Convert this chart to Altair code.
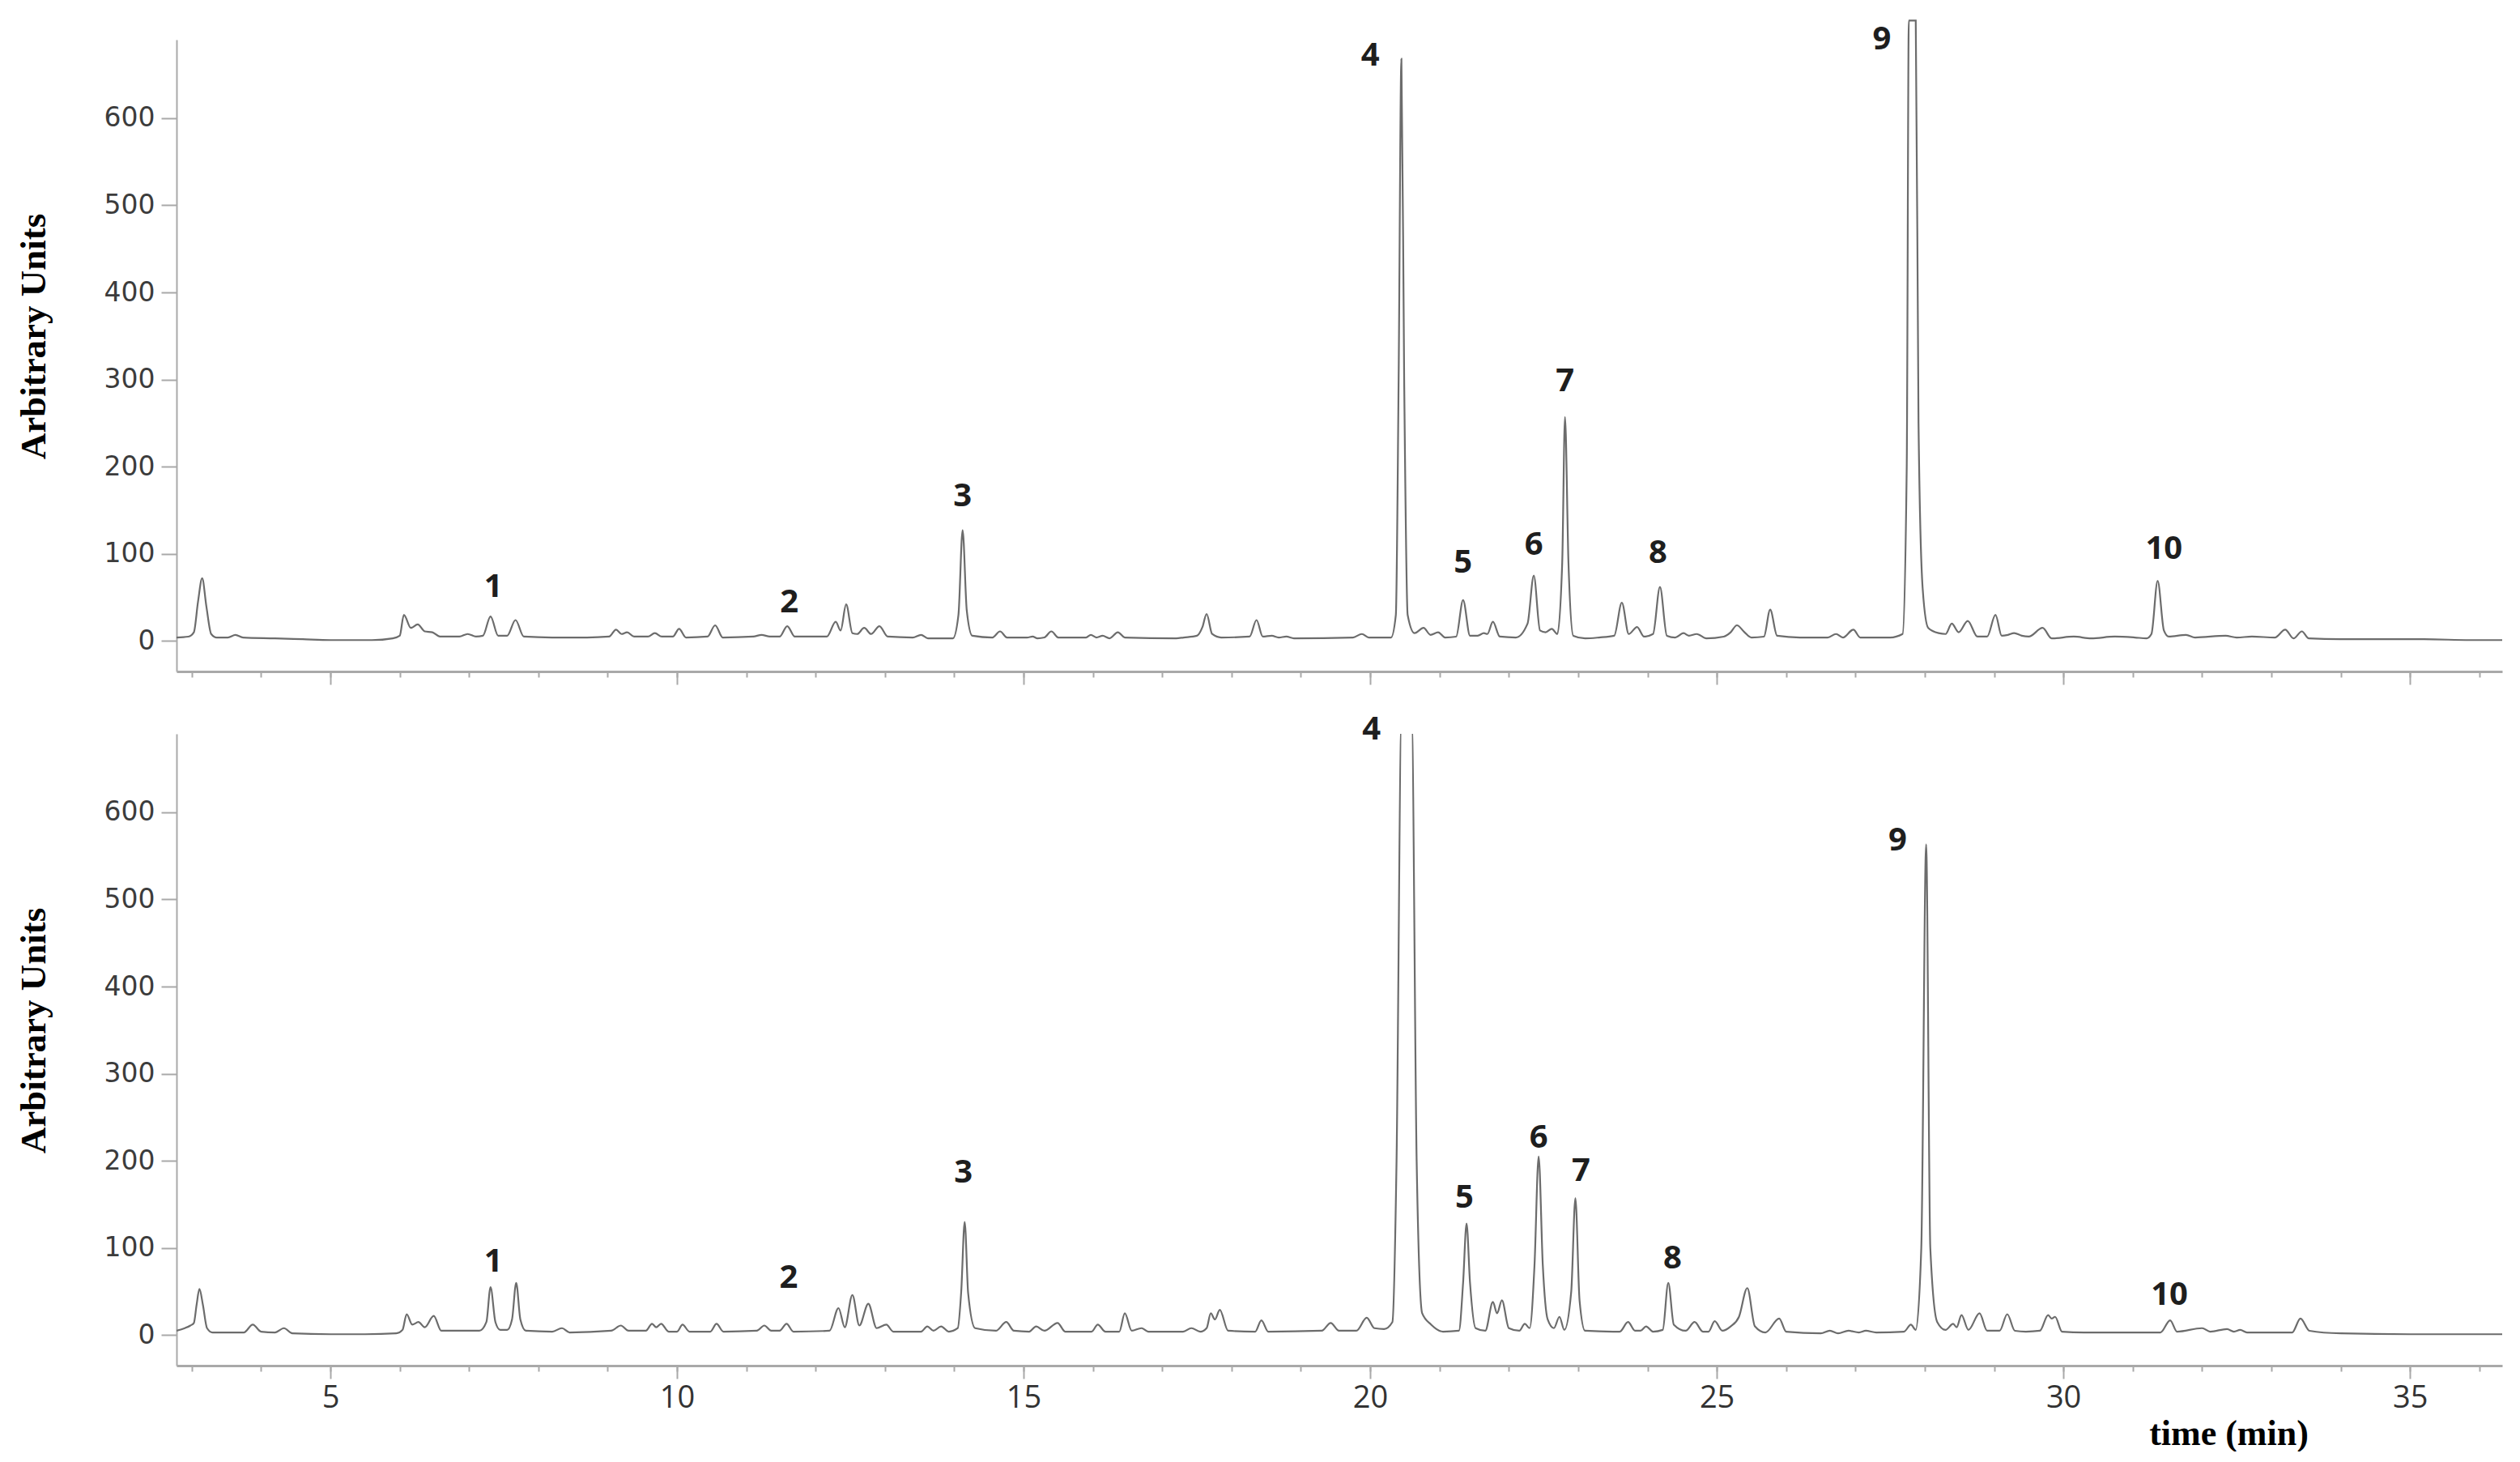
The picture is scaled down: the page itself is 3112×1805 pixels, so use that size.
import altair as alt
import pandas as pd

# ---------------- data ----------------
TOP_T = [2.78, 2.95, 3.03, 3.09, 3.15, 3.21, 3.28, 3.36, 3.52, 3.63, 3.74, 4.2, 4.6, 5.0, 5.6, 5.9,
         6.0, 6.06, 6.16, 6.26, 6.36, 6.47, 6.58, 6.86, 6.98, 7.1, 7.2, 7.31, 7.42, 7.55, 7.67, 7.79,
         8.2, 8.7, 9.02, 9.12, 9.2, 9.28, 9.38, 9.58, 9.68, 9.78, 9.94, 10.03, 10.13, 10.44, 10.55,
         10.66, 11.1, 11.22, 11.34, 11.48, 11.59, 11.7, 12.16, 12.29, 12.36, 12.44, 12.53, 12.6, 12.7,
         12.8, 12.92, 13.04, 13.4, 13.52, 13.62, 13.98, 14.06, 14.12, 14.18, 14.26, 14.55, 14.66, 14.76,
         15.05, 15.13, 15.2, 15.3, 15.4, 15.5, 15.9, 15.97, 16.05, 16.14, 16.24, 16.36, 16.46, 17.2,
         17.31, 17.5, 17.58, 17.64, 17.72, 17.85, 18.26, 18.36, 18.45, 18.58, 18.68, 18.79, 18.9, 19.75,
         19.88, 19.98, 20.3, 20.37, 20.41, 20.45, 20.49, 20.54, 20.64, 20.77, 20.87, 20.98, 21.08, 21.24,
         21.34, 21.44, 21.55, 21.64, 21.69, 21.77, 21.87, 22.1, 22.27, 22.36, 22.45, 22.53, 22.62, 22.7,
         22.77, 22.81, 22.86, 22.93, 23.1, 23.3, 23.52, 23.63, 23.73, 23.85, 23.95, 24.08, 24.18, 24.28,
         24.4, 24.52, 24.6, 24.71, 24.85, 25.1, 25.2, 25.29, 25.4, 25.5, 25.68, 25.77, 25.87, 26.2, 26.6,
         26.72, 26.82, 26.97, 27.07, 27.5, 27.68, 27.74, 27.77, 27.87, 27.91, 27.97, 28.05, 28.2, 28.3,
         28.39, 28.49, 28.62, 28.76, 28.9, 29.02, 29.11, 29.2, 29.29, 29.4, 29.5, 29.7, 29.83, 30.15,
         30.4, 30.74, 31.03, 31.2, 31.27, 31.36, 31.45, 31.52, 31.77, 31.9, 32.34, 32.5, 32.72, 33.05,
         33.2, 33.32, 33.44, 33.54, 34.0, 34.6, 35.2, 35.9, 36.33]
TOP_V = [4, 5, 10, 45, 72, 40, 8, 4, 4, 7, 4, 3, 2, 1, 1, 3,
         6, 30, 15, 19, 11, 10, 5, 5, 8, 5, 6, 28, 6, 6, 24, 5,
         4, 4, 5, 13, 8, 10, 5, 5, 9, 5, 5, 14, 4, 5, 18,
         4, 5, 7, 5, 5, 17, 5, 5, 22, 12, 42, 9, 8, 15,
         8, 17, 5, 4, 7, 3, 3, 30, 127, 35, 6, 4, 11, 4,
         4, 5, 3, 4, 11, 4, 4, 7, 4, 6, 3, 10, 4, 3,
         4, 6, 16, 31, 8, 4, 5, 24, 5, 6, 4, 5, 3, 4,
         8, 4, 4, 30, 300, 668, 300, 30, 9, 15, 7, 10, 4, 5,
         47, 6, 6, 9, 8, 22, 5, 4, 20, 75, 12, 10, 14, 8,
         90, 257, 90, 6, 3, 4, 6, 44, 8, 16, 5, 8, 62, 6,
         4, 9, 6, 8, 3, 5, 10, 18, 10, 4, 5, 36, 6, 4, 4,
         8, 4, 13, 4, 4, 8, 200, 712, 712, 250, 60, 15, 9, 8,
         20, 10, 23, 5, 5, 30, 6, 7, 9, 6, 5, 15, 3, 5,
         3, 5, 4, 3, 8, 69, 12, 5, 7, 4, 6, 4, 5, 4,
         13, 3, 11, 3, 2, 2, 2, 1, 1]

BOT_T = [2.78, 2.9, 2.98, 3.03, 3.07, 3.11, 3.16, 3.22, 3.3, 3.75, 3.88, 4.0, 4.2, 4.33, 4.45, 5.0,
         5.5, 5.95, 6.04, 6.1, 6.18, 6.27, 6.36, 6.49, 6.6, 7.15, 7.25, 7.31, 7.38, 7.45, 7.55, 7.62,
         7.68, 7.74, 7.82, 8.2, 8.34, 8.45, 9.05, 9.19, 9.3, 9.55, 9.64, 9.7, 9.77, 9.88, 10.0, 10.08,
         10.18, 10.48, 10.57, 10.67, 11.15, 11.26, 11.36, 11.48, 11.58, 11.68, 12.2, 12.33, 12.42,
         12.53, 12.63, 12.76, 12.88, 13.02, 13.12, 13.52, 13.61, 13.7, 13.81, 13.92, 14.05, 14.1, 14.15,
         14.2, 14.3, 14.6, 14.75, 14.86, 15.08, 15.18, 15.3, 15.49, 15.6, 15.98, 16.07, 16.18, 16.38,
         16.46, 16.56, 16.7, 16.8, 17.3, 17.42, 17.55, 17.64, 17.7, 17.76, 17.83, 17.95, 18.34, 18.43,
         18.53, 19.3, 19.43, 19.55, 19.8, 19.95, 20.06, 20.2, 20.32, 20.38, 20.45, 20.6, 20.67, 20.75,
         20.88, 21.05, 21.28, 21.34, 21.39, 21.44, 21.52, 21.66, 21.77, 21.83, 21.9, 22.0, 22.15, 22.23,
         22.3, 22.37, 22.43, 22.49, 22.56, 22.65, 22.73, 22.8, 22.9, 22.96, 23.02, 23.1, 23.5, 23.6,
         23.72, 23.82, 23.9, 23.98, 24.08, 24.22, 24.3, 24.38, 24.55, 24.68, 24.8, 24.88, 24.97, 25.08,
         25.2, 25.32, 25.44, 25.55, 25.7, 25.9, 26.0, 26.5, 26.63, 26.75, 26.9, 27.05, 27.15, 27.3,
         27.7, 27.8, 27.87, 27.95, 28.02, 28.08, 28.18, 28.3, 28.41, 28.46, 28.53, 28.63, 28.79, 28.9,
         29.08, 29.19, 29.3, 29.46, 29.66, 29.78, 29.83, 29.88, 29.98, 30.3, 30.8, 31.4, 31.54, 31.64,
         32.0, 32.12, 32.36, 32.46, 32.55, 32.65, 33.3, 33.42, 33.55, 34.0, 35.0, 36.33]
BOT_V = [5, 8, 11, 14, 35, 53, 35, 8, 3, 3, 12, 4, 3, 8, 2, 1,
         1, 2, 6, 24, 12, 15, 9, 22, 5, 5, 15, 55, 15, 6, 6, 18,
         60, 18, 5, 4, 8, 3, 5, 11, 5, 5, 13, 9, 13, 4, 4, 12,
         4, 4, 13, 4, 5, 11, 5, 5, 13, 4, 5, 31, 9,
         46, 11, 36, 8, 12, 4, 4, 10, 5, 10, 4, 8, 50, 130,
         48, 8, 5, 15, 5, 4, 10, 5, 14, 4, 4, 12, 4, 4,
         25, 5, 8, 4, 4, 8, 4, 8, 25, 18, 29, 5, 4, 17,
         4, 5, 14, 5, 5, 20, 8, 7, 15, 200, 700, 700, 200, 25,
         12, 4, 5, 60, 128, 60, 8, 5, 38, 25, 40, 8, 5, 13,
         8, 80, 205, 80, 18, 8, 21, 6, 50, 157, 40, 5, 4, 4,
         15, 5, 5, 10, 4, 6, 60, 12, 5, 15, 4, 4, 16, 5,
         10, 21, 54, 10, 3, 19, 4, 2, 5, 2, 5, 3, 5, 3,
         4, 12, 6, 100, 563, 100, 15, 6, 13, 9, 23, 6, 25, 5,
         5, 24, 5, 4, 5, 23, 19, 21, 4, 3, 3, 3, 17, 4,
         8, 4, 7, 4, 6, 3, 3, 19, 5, 2, 1, 1]

PEAK_NAMES = ["1", "2", "3", "4", "5", "6", "7", "8", "9", "10"]
TOP_LABEL_T = [7.35, 11.62, 14.12, 20.0, 21.34, 22.36, 22.81, 24.15, 27.38, 31.45]
TOP_LABEL_V = [62, 44, 166, 671, 90, 110, 298, 101, 690, 105]
BOT_LABEL_T = [7.35, 11.61, 14.13, 20.02, 21.36, 22.43, 23.04, 24.36, 27.61, 31.53]
BOT_LABEL_V = [84, 65, 186, 695, 157, 226, 188, 88, 567, 46]

Y_TICKS = [0, 100, 200, 300, 400, 500, 600]
X_MINOR = list(range(3, 37))
X_MAJOR = [5, 10, 15, 20, 25, 30, 35]
X_DOMAIN = [2.78, 36.33]
Y_DOMAIN = [-35, 690]

W, H = 2872, 780
AXIS_GRAY = "#a9a9a9"


def y_axis():
    return alt.Axis(values=Y_TICKS, grid=False, title="Arbitrary Units",
                    titleFont="Liberation Serif", titleFontSize=45, titleFontWeight="bold",
                    titleColor="#000000", titleAngle=270, titleX=-163, titleY=366,
                    titleAlign="center", titleBaseline="alphabetic",
                    labelFont="DejaVu Sans", labelFontSize=33, labelColor="#3c3c3c",
                    labelPadding=8, tickSize=19, tickWidth=2, tickColor=AXIS_GRAY,
                    domainColor=AXIS_GRAY, domainWidth=2)


def minor_axis():
    return alt.Axis(orient="bottom", values=X_MINOR, grid=False, labels=False, title="",
                    tickSize=7, tickWidth=2, tickColor=AXIS_GRAY,
                    domainColor=AXIS_GRAY, domainWidth=3)


def major_axis(with_labels):
    common = dict(orient="bottom", values=X_MAJOR, grid=False, domain=False,
                  tickSize=16, tickWidth=2, tickColor=AXIS_GRAY)
    if with_labels:
        return alt.Axis(labels=True, format="d",
                        labelFont="Open Sans", labelFontSize=38, labelColor="#333333",
                        labelPadding=5, labelOverlap=False, labelFlush=False,
                        title="time (min)", titleFont="Liberation Serif", titleFontSize=44,
                        titleFontWeight="bold", titleColor="#000000", titleX=2534, titleY=84,
                        titleAlign="center", titleBaseline="middle", titleAngle=0,
                        **common)
    return alt.Axis(labels=False, title="", **common)


def panel(t, v, lt, lv, with_labels, clip):
    trace = pd.DataFrame({"t": t, "v": v})
    labs = pd.DataFrame({"t": lt, "v": lv, "name": PEAK_NAMES})
    xs = alt.Scale(domain=X_DOMAIN, nice=False, zero=False)
    ys = alt.Scale(domain=Y_DOMAIN, nice=False, zero=False)
    line = alt.Chart(trace).mark_line(
        color="#6c6c6c", strokeWidth=2.2, interpolate="monotone", clip=clip
    ).encode(
        x=alt.X("t:Q", scale=xs, axis=minor_axis()),
        y=alt.Y("v:Q", scale=ys, axis=y_axis()),
    )
    text = alt.Chart(labs).mark_text(
        font="Open Sans", fontSize=40, fontWeight="bold", color="#1e1e1e",
        align="center", baseline="middle"
    ).encode(
        x=alt.X("t:Q", scale=xs, axis=major_axis(with_labels)),
        y=alt.Y("v:Q", scale=ys),
        text="name:N",
    )
    return alt.layer(line, text).resolve_axis(x="independent").properties(width=W, height=H)


top = panel(TOP_T, TOP_V, TOP_LABEL_T, TOP_LABEL_V, False, False)
bottom = panel(BOT_T, BOT_V, BOT_LABEL_T, BOT_LABEL_V, True, True)

chart = alt.vconcat(top, bottom, spacing=77, bounds="flush").properties(
    padding={"left": 11, "top": 12, "right": 5, "bottom": 0},
    background="white",
).configure_view(strokeWidth=0)

chart.save("out.html", embed_options={"renderer": "svg", "actions": False})
